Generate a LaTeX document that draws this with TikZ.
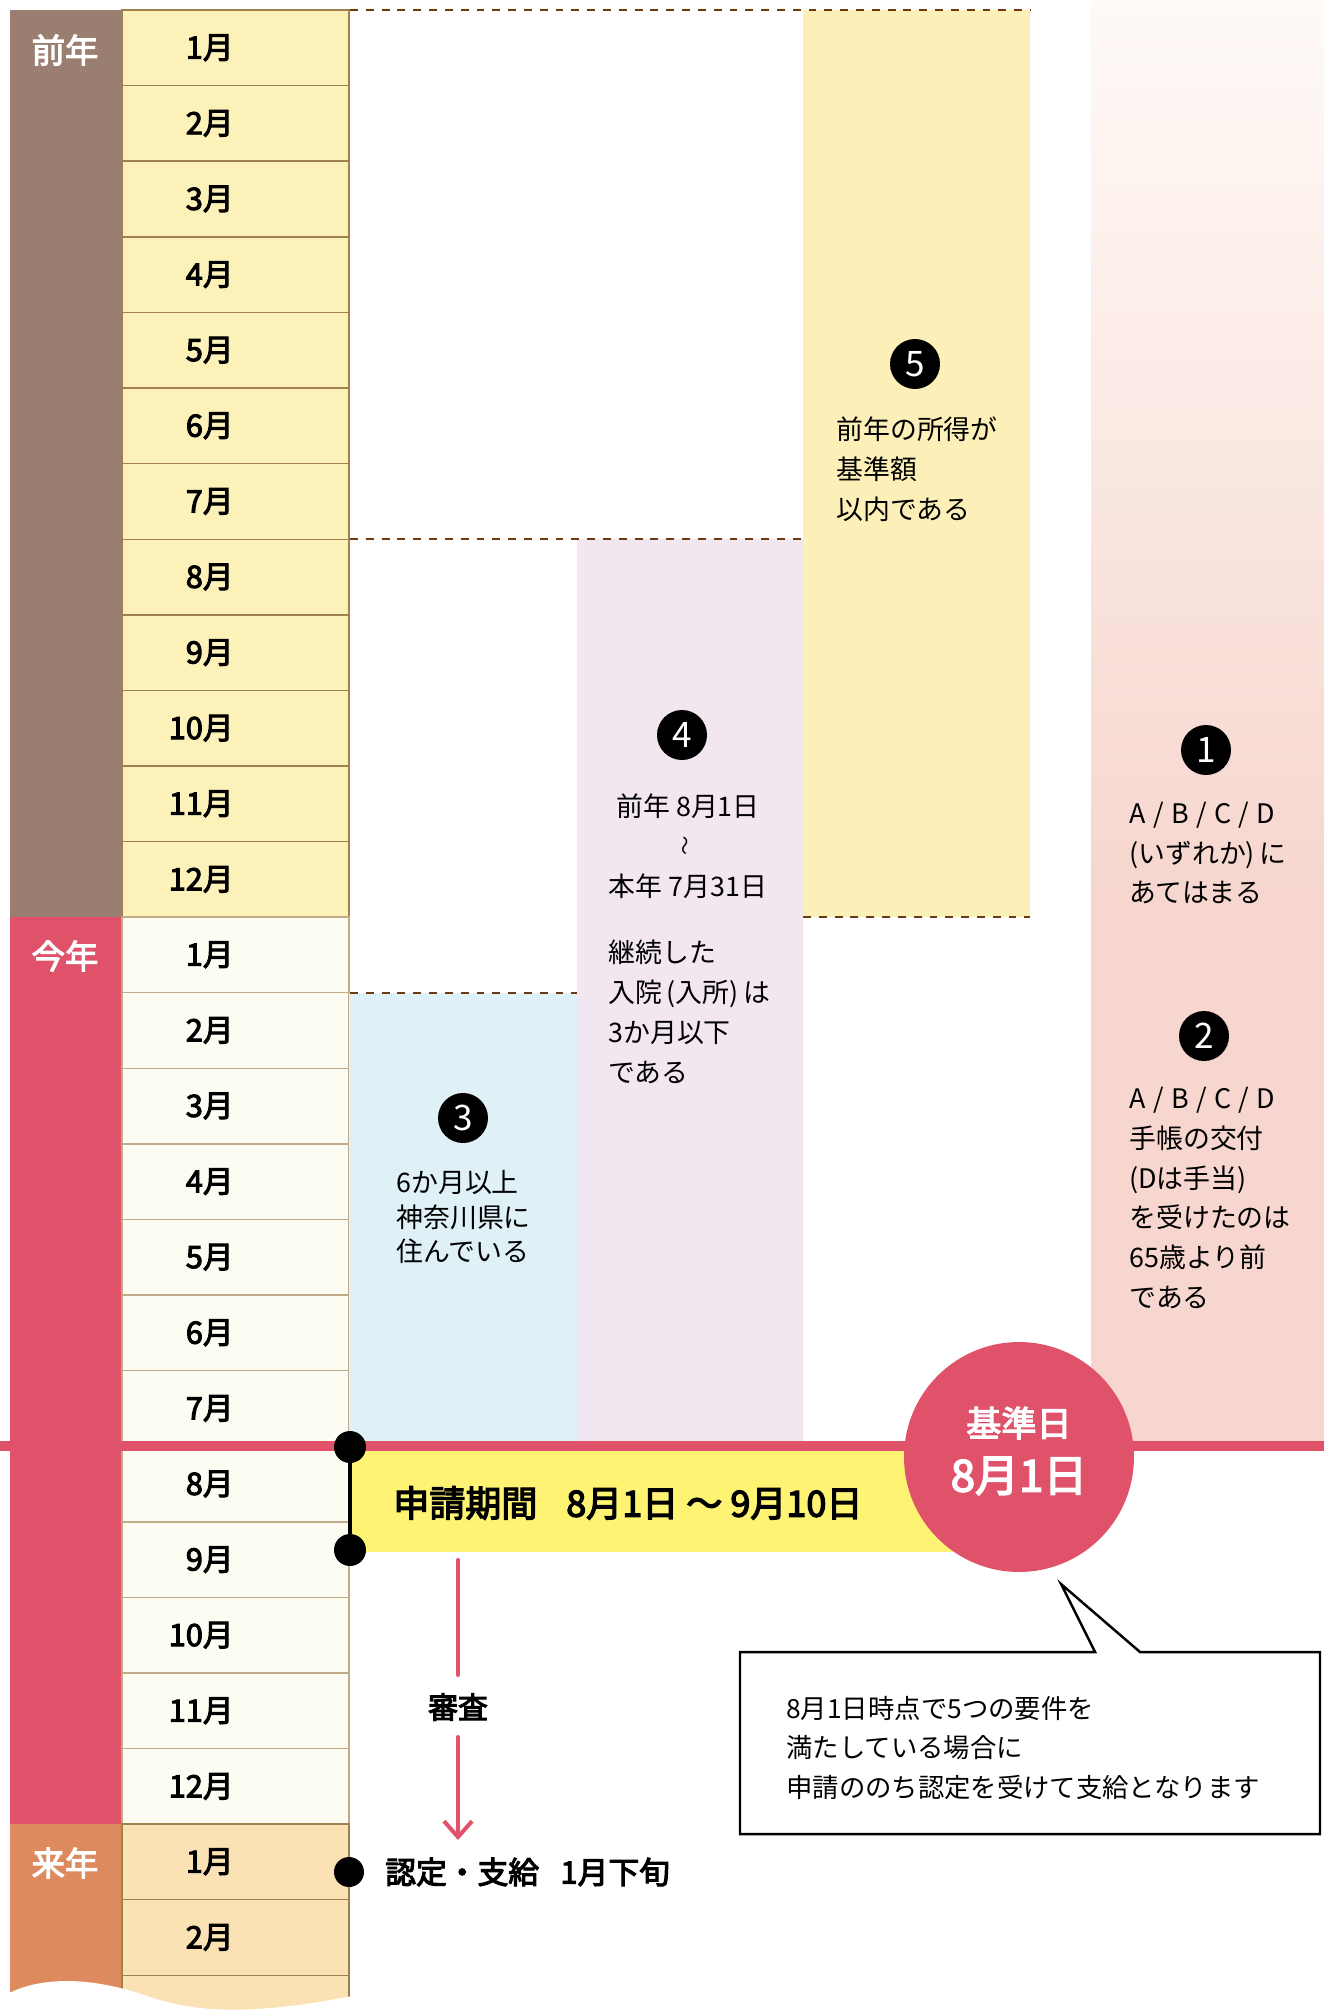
\documentclass[tikz,border=0pt]{standalone}
\usepackage{fontspec}
\setmainfont{Noto Sans CJK JP}
\newfontfamily\medfont[FakeBold=3.2]{Noto Sans CJK JP}
\newfontfamily\semifont[FakeBold=3.6]{Noto Sans CJK JP}
\usetikzlibrary{arrows.meta}
\definecolor{cPrevL}{HTML}{9A7E72}
\definecolor{cRed}{HTML}{E0526A}
\definecolor{cNextL}{HTML}{DD8A5F}
\definecolor{cPrevM}{HTML}{FDF1BA}
\definecolor{cCurM}{HTML}{FCFCF2}
\definecolor{cNextM}{HTML}{FBE2B5}
\definecolor{cRowLine}{HTML}{A0804F}
\definecolor{cRowLineB}{HTML}{C2AA86}
\definecolor{cBlue}{HTML}{DFF0F6}
\definecolor{cPurple}{HTML}{F2E6F0}
\definecolor{cYellow}{HTML}{FCF0B8}
\definecolor{cBand}{HTML}{FEF372}
\definecolor{cPinkTop}{HTML}{FFFAF7}
\definecolor{cPink}{HTML}{F6D6CE}
\definecolor{cDash}{HTML}{6B3A10}
\tikzset{
  monthlbl/.style={anchor=east, inner sep=0pt, font=\fontsize{17.5}{20}\medfont},
  yearlbl/.style={inner sep=0pt, text=white, font=\fontsize{19}{22}\medfont},
  dashline/.style={cDash, line width=1.6pt, dash pattern=on 4.5pt off 4.5pt},
  numcircle/.style={circle, fill=black, text=white, minimum size=1cm, inner sep=0pt, font=\fontsize{20}{20}\selectfont},
  bodytext/.style={anchor=west, inner sep=0pt, align=left, font=\fontsize{15.3}{22.7}\selectfont},
  dot/.style={circle, fill=black, minimum size=0.64cm, inner sep=0pt},
  redarrow/.style={cRed, line width=2.3pt, line cap=round},
}
\begin{document}
\begin{tikzpicture}[x=0.02cm,y=-0.02cm]
\useasboundingbox (0,0) rectangle (1332,2011);
% year label columns
\fill[cPrevL] (10,10) rectangle (122,917);
\fill[cRed] (10,917) rectangle (122,1824);
\fill[cNextL] (10,1824) rectangle (122,2011);
% month cells
\foreach \m [count=\c] in {1,...,12} {
  \draw[cRowLine, line width=0.8pt, fill=cPrevM] (122,{10+75.6*(\c-1)}) rectangle (349,{10+75.6*\c});
  \node[monthlbl] (pm\c) at (234,{10+75.6*(\c-0.5)}) {\m 月};
}
\foreach \m [count=\c] in {1,...,12} {
  \draw[cRowLineB, line width=0.8pt, fill=cCurM] (122,{917+75.6*(\c-1)}) rectangle (349,{917+75.6*\c});
  \node[monthlbl] (cm\c) at (234,{917+75.6*(\c-0.5)}) {\m 月};
}
\foreach \m [count=\c] in {1,2,3} {
  \draw[cRowLine, line width=0.8pt, fill=cNextM] (122,{1824+75.6*(\c-1)}) rectangle (349,{1824+75.6*\c});
}
\node[monthlbl] (nm1) at (234,{1824+75.6*0.5}) {1月};
\node[monthlbl] (nm2) at (234,{1824+75.6*1.5}) {2月};
% wavy cut at bottom
\fill[white] (4,1996) .. controls (30,1980) and (80,1972) .. (150,1997)
  .. controls (195,2012) and (250,2016) .. (352,1996) -- (352,2020) -- (4,2020) -- cycle;
% year labels
\node[yearlbl] (yprev) at (65,50) {前年};
\node[yearlbl] (ycur) at (65,956) {今年};
\node[yearlbl] (ynext) at (65,1863) {来年};
% condition boxes
\fill[cBlue] (349,993) rectangle (577,1446);
\fill[cPurple] (577,539) rectangle (803,1446);
\fill[cYellow] (803,10) rectangle (1030,917);
\shade[top color=cPinkTop, bottom color=cPink] (1091,0) rectangle (1324,900);
\fill[cPink] (1091,899) rectangle (1324,1446);
% dashed limits
\draw[dashline] (350,10) -- (1030,10);
\draw[dashline] (350,539) -- (803,539);
\draw[dashline] (803,917) -- (1030,917);
\draw[dashline] (350,993) -- (577,993);
% 5
\node[numcircle] (n5) at (915,364) {5};
\node[bodytext] (t5) at (836,469) {前年の所得が\\基準額\\以内である};
% 4
\node[numcircle] (n4) at (682,735) {4};
\node[inner sep=0pt, font=\fontsize{15.3}{20}\selectfont] (t4a) at (688,806) {前年\ 8月1日};
\node[inner sep=0pt, rotate=90, font=\fontsize{11}{12}\selectfont] (t4b) at (688,846) {～};
\node[inner sep=0pt, font=\fontsize{15.3}{20}\selectfont] (t4c) at (688,886) {本年\ 7月31日};
\node[bodytext] (t4) at (608,1012) {継続した\\入院\,(入所)\,は\\3か月以下\\である};
% 3
\node[numcircle] (n3) at (463,1118) {3};
\node[bodytext, font=\fontsize{15.3}{19.8}\selectfont] (t3) at (396,1217) {6か月以上\\神奈川県に\\住んでいる};
% 1
\node[numcircle] (n1) at (1206,750) {1};
\node[bodytext] (t1) at (1129,853) {A\;/\;B\;/\;C\;/\;D\\(いずれか)\,に\\あてはまる};
% 2
\node[numcircle] (n2) at (1204,1036) {2};
\node[bodytext] (t2) at (1129,1198) {A\;/\;B\;/\;C\;/\;D\\手帳の交付\\(Dは手当)\\を受けたのは\\65歳より前\\である};
% application band
\fill[cBand] (349,1446) rectangle (960,1552);
\draw[cRed, line width=5.7pt] (0,1446) -- (1324,1446);
\node[anchor=west, inner sep=0pt, font=\fontsize{20.5}{24}\semifont] (band) at (393,1503) {申請期間\hspace{0.8em}8月1日 ～ 9月10日};
\node[dot] (d1) at (350,1447) {};
\node[dot] (d2) at (350,1550) {};
\draw[line width=2.8pt] (d1.center) -- (d2.center);
% base date circle
\node[circle, fill=cRed, minimum size=4.6cm, inner sep=0pt] (kijun) at (1019,1457) {};
\node[inner sep=0pt, text=white, font=\fontsize{20}{24}\medfont] (kj1) at (1019,1423) {基準日};
\node[inner sep=0pt, text=white, font=\fontsize{25}{28}\semifont] (kj2) at (1019,1476) {8月1日};
% review arrow
\coordinate (a0) at (458,1560);
\node[inner sep=0pt, font=\fontsize{17}{20}\semifont] (shinsa) at (458,1707) {審査};
\coordinate (a1) at (458,1840);
\draw[redarrow] (a0) -- (458,1675);
\draw[redarrow, -{Straight Barb[length=9pt,width=16pt,line width=2.3pt]}] (458,1737) -- (a1);
% result
\node[dot, minimum size=0.6cm] (d3) at (349,1872) {};
\node[anchor=west, inner sep=0pt, font=\fontsize{17.5}{20}\semifont] (res) at (385,1872) {認定・支給\hspace{0.7em}1月下旬};
% callout
\coordinate (tip) at (1061,1584);
\draw[line width=1.4pt, line join=miter, fill=white] (740,1652) -- (1095,1652) -- (tip) -- (1140,1652) -- (1320,1652) -- (1320,1834) -- (740,1834) -- cycle;
\node[bodytext, font=\fontsize{15}{22.7}\selectfont] (call) at (786,1748) {8月1日時点で5つの要件を\\満たしている場合に\\申請ののち認定を受けて支給となります};
\end{tikzpicture}
\end{document}
